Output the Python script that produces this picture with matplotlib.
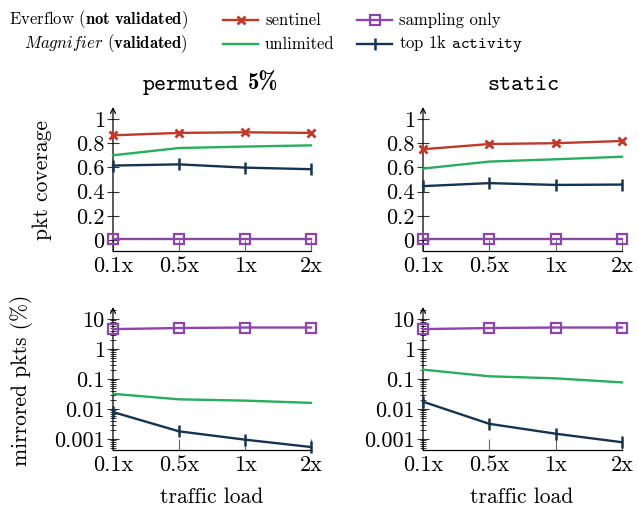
import matplotlib
matplotlib.use("Agg")
import matplotlib.pyplot as plt
from matplotlib.lines import Line2D
from matplotlib.ticker import LogLocator, NullFormatter, FixedLocator

plt.rcParams['font.family'] = ['cmr10', 'DejaVu Serif']
plt.rcParams['mathtext.fontset'] = 'cm'
plt.rcParams['axes.formatter.use_mathtext'] = True

loads = ['0.1x', '0.5x', '1x', '2x']

# pkt coverage, permuted 5%
cov_perm_sentinel = [0.865, 0.885, 0.89, 0.885]
cov_perm_unlimited = [0.70, 0.76, 0.772, 0.782]
cov_perm_top1k = [0.615, 0.625, 0.598, 0.585]
cov_perm_sampling = [0.01, 0.01, 0.01, 0.01]

# pkt coverage, static
cov_stat_sentinel = [0.75, 0.793, 0.80, 0.818]
cov_stat_unlimited = [0.59, 0.648, 0.667, 0.688]
cov_stat_top1k = [0.445, 0.47, 0.455, 0.458]
cov_stat_sampling = [0.01, 0.01, 0.01, 0.01]

# mirrored pkts (%), permuted 5%
mir_perm_sampling = [4.6, 5.0, 5.2, 5.2]
mir_perm_unlimited = [0.032, 0.021, 0.019, 0.016]
mir_perm_top1k = [0.0079, 0.0018, 0.00095, 0.00054]

# mirrored pkts (%), static
mir_stat_sampling = [4.6, 5.0, 5.2, 5.2]
mir_stat_unlimited = [0.205, 0.123, 0.105, 0.077]
mir_stat_top1k = [0.0175, 0.0032, 0.0015, 0.00078]

RED = '#c0392b'
GREEN = '#27ae60'
PURPLE = '#8e44ad'
NAVY = '#163450'

W, H = 638, 507
fig = plt.figure(figsize=(W / 100, H / 100), dpi=100)

def axes_px(x0, x1, ytop, ybot):
    return fig.add_axes([x0 / W, (H - ybot) / H, (x1 - x0) / W, (ybot - ytop) / H])

FS = 16
LABFS = 15.5
xs = list(range(len(loads)))

def style(ax):
    ax.set_xlim(0, len(loads) - 1)
    for s in ['top', 'right', 'left']:
        ax.spines[s].set_visible(False)
    ax.spines['bottom'].set_linewidth(0.9)
    ax.set_facecolor('none')
    ax.annotate('', xy=(0, 1), xytext=(0, 0), xycoords='axes fraction',
                arrowprops=dict(arrowstyle='->', lw=0.9, color='black',
                                shrinkA=0, shrinkB=0, mutation_scale=9))
    ax.set_xticks(xs)
    ax.set_xticklabels(loads, fontsize=FS)
    ax.tick_params(axis='x', direction='in', length=8, width=0.8, color='#666666', pad=4)
    ax.tick_params(axis='y', which='major', direction='inout', length=8, width=0.8,
                   color='#333333', pad=2, labelsize=FS)
    ax.tick_params(axis='y', which='minor', direction='inout', length=5, width=0.7,
                   color='#333333')

def plot_cov(ax, sent, unl, top, samp):
    kw = dict(lw=1.7, clip_on=False, zorder=3)
    ax.plot(xs, samp, color=PURPLE, marker='s', ms=7.5, mfc='none', mew=1.6, **kw)
    ax.plot(xs, top, color=NAVY, marker='|', ms=8, mew=1.8, **kw)
    ax.plot(xs, unl, color=GREEN, **kw)
    ax.plot(xs, sent, color=RED, marker='x', ms=5.5, mew=2, **kw)
    ax.set_ylim(-0.091, 1.099)
    ax.set_yticks([0, 0.2, 0.4, 0.6, 0.8, 1])
    ax.set_yticklabels(['0', '0.2', '0.4', '0.6', '0.8', '1'])

def plot_mir(ax, samp, unl, top):
    kw = dict(lw=1.7, clip_on=False, zorder=3)
    ax.plot(xs, samp, color=PURPLE, marker='s', ms=7.5, mfc='none', mew=1.6, **kw)
    ax.plot(xs, unl, color=GREEN, **kw)
    ax.plot(xs, top, color=NAVY, marker='|', ms=8, mew=1.8, **kw)
    ax.set_yscale('log')
    ax.set_ylim(10 ** -3.367, 10 ** 1.4)
    ax.yaxis.set_major_locator(FixedLocator([0.001, 0.01, 0.1, 1, 10]))
    ax.set_yticklabels(['0.001', '0.01', '0.1', '1', '10'])
    ax.yaxis.set_minor_locator(LogLocator(base=10, subs=[2, 3, 4, 5, 6, 7, 8, 9], numticks=20))
    ax.yaxis.set_minor_formatter(NullFormatter())

ax1 = axes_px(113, 311, 107, 251)
style(ax1)
plot_cov(ax1, cov_perm_sentinel, cov_perm_unlimited, cov_perm_top1k, cov_perm_sampling)
ax2 = axes_px(423, 622, 107, 251)
style(ax2)
plot_cov(ax2, cov_stat_sentinel, cov_stat_unlimited, cov_stat_top1k, cov_stat_sampling)
ax3 = axes_px(113, 311, 307, 450)
style(ax3)
plot_mir(ax3, mir_perm_sampling, mir_perm_unlimited, mir_perm_top1k)
ax4 = axes_px(423, 622, 307, 450)
style(ax4)
plot_mir(ax4, mir_stat_sampling, mir_stat_unlimited, mir_stat_top1k)

def ftext(x, y, s, **kw):
    return fig.text(x / W, 1 - y / H, s, **kw)

TFS = 16.5
t1 = ftext(143, 90, 'permuted', family='cmtt10', fontsize=TFS, ha='left', va='baseline')
fig.canvas.draw()
bb = t1.get_window_extent()
fig.text((bb.x1 + 9) / W, 1 - 90 / H, '5%', family='cmb10', fontsize=TFS, ha='left', va='baseline')
ftext(523, 90, 'static', family='cmtt10', fontsize=TFS, ha='center', va='baseline')

ftext(42, 180, 'pkt coverage', fontsize=LABFS, rotation=90, ha='center', va='center')
ftext(22, 380, 'mirrored pkts (%)', fontsize=LABFS, rotation=90, ha='center', va='center')
ftext(212, 497, 'traffic load', fontsize=LABFS, ha='center', va='center')
ftext(522, 497, 'traffic load', fontsize=LABFS, ha='center', va='center')

# legend
LFS = 12
ftext(188, 20, r'Everflow ($\mathbf{not\ validated}$)', fontsize=LFS, ha='right', va='center')
ftext(188, 44, r'$\mathit{Magnifier}$ ($\mathbf{validated}$)', fontsize=LFS, ha='right', va='center')

def leg_entry(x0, y, color, marker, label, **mk):
    line = Line2D([x0 / W, (x0 + 35) / W], [1 - y / H, 1 - y / H], transform=fig.transFigure,
                  color=color, lw=1.7)
    fig.add_artist(line)
    if marker:
        m = Line2D([(x0 + 17.5) / W], [1 - y / H], transform=fig.transFigure, color=color,
                   marker=marker, lw=0, **mk)
        fig.add_artist(m)
    return ftext(x0 + 42, y, label, fontsize=LFS, ha='left', va='center')

leg_entry(223, 20, RED, 'x', 'sentinel', ms=5.5, mew=2)
leg_entry(223, 44, GREEN, None, 'unlimited')
leg_entry(357, 20, PURPLE, 's', 'sampling only', ms=7.5, mfc='none', mew=1.6)
leg_entry(357, 44, NAVY, '|', r'top 1k $\mathtt{activity}$', ms=8, mew=1.8)

fig.savefig('out.png', dpi=100)
